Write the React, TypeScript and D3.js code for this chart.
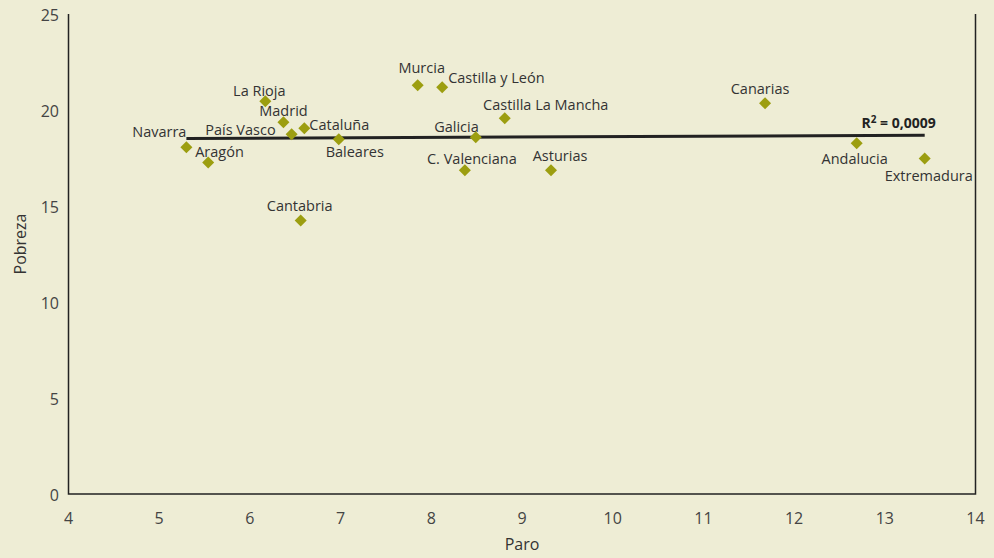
import React from "react";
import * as d3 from "d3";

// regiones, paro (%) y pobreza (%)
const regions = [
  "Navarra", "Aragón", "La Rioja", "Madrid", "País Vasco", "Cataluña", "Baleares",
  "Cantabria", "Murcia", "Castilla y León", "Castilla La Mancha", "Galicia",
  "C. Valenciana", "Asturias", "Canarias", "Andalucia", "Extremadura",
];
const paro = [5.3, 5.54, 6.17, 6.37, 6.46, 6.6, 6.98, 6.56, 7.85, 8.12, 8.81, 8.49, 8.37, 9.32, 11.68, 12.69, 13.44];
const pobreza = [18.06, 17.27, 20.46, 19.36, 18.74, 19.05, 18.48, 14.25, 21.29, 21.19, 19.57, 18.58, 16.86, 16.86, 20.35, 18.27, 17.48];

// linea de tendencia (extremos)
const trendX = [5.3, 13.44];
const trendY = [18.52, 18.68];
const r2Label = "0,0009";

const xTicks = [4, 5, 6, 7, 8, 9, 10, 11, 12, 13, 14];
const yTicks = [0, 5, 10, 15, 20, 25];

// label placement: [anchor, dx, dy]
const labelPos: Record<string, [string, number, number]> = {
  "Navarra": ["end", 0, -10],
  "Aragón": ["start", -13, -5],
  "La Rioja": ["middle", -6, -5],
  "Madrid": ["middle", 0, -6],
  "País Vasco": ["end", -16, 1],
  "Cataluña": ["start", 5, 2],
  "Baleares": ["middle", 16, 18],
  "Cantabria": ["middle", -1, -9],
  "Murcia": ["middle", 4, -12],
  "Castilla y León": ["start", 6, -4],
  "Castilla La Mancha": ["middle", 41, -8],
  "Galicia": ["end", 3, -5],
  "C. Valenciana": ["middle", 7, -6],
  "Asturias": ["middle", 9, -9],
  "Canarias": ["middle", -5, -9],
  "Andalucia": ["middle", -2, 21],
  "Extremadura": ["middle", 4, 23],
};

const W = 994;
const H = 558;
const font = "'Open Sans', 'Noto Sans', sans-serif";
const textColor = "#333";

export default function App() {
  const x = d3.scaleLinear().domain([4, 14]).range([68.5, 975.5]);
  const y = d3.scaleLinear().domain([0, 25]).range([494, 14]);
  const diamond = d3.symbol(d3.symbolDiamond2, 92)();
  const trend = d3.line<number>().x((d) => x(trendX[d])).y((d) => y(trendY[d]));

  return (
    <svg width={W} height={H} style={{ position: "absolute", left: 0, top: 0, background: "#EEEDD5" }}>
      <rect width={W} height={H} fill="#EEEDD5" />
      <g fontFamily={font} fill={textColor}>
        {/* axes */}
        <path d={`M${x(4)},${y(25)}V${y(0)}H${x(14)}V${y(25)}`} fill="none" stroke="#222" strokeWidth={1.5} />
        {yTicks.map((t) => (
          <text key={"y" + t} x={59} y={y(t) + 1} dy="0.35em" textAnchor="end" fontSize={16} fill="#444">
            {t}
          </text>
        ))}
        {xTicks.map((t) => (
          <text key={"x" + t} x={x(t)} y={518} dy="0.35em" textAnchor="middle" fontSize={16} fill="#444">
            {t}
          </text>
        ))}
        <text x={x(9)} y={544} dy="0.35em" textAnchor="middle" fontSize={16}>Paro</text>
        <text transform={`translate(20,${y(12.5) - 10}) rotate(-90)`} dy="0.35em" textAnchor="middle" fontSize={16}>
          Pobreza
        </text>

        {/* trend */}
        <path d={trend([0, 1]) || ""} fill="none" stroke="#222" strokeWidth={3} />
        <text x={x(trendX[1]) + 11} y={y(trendY[1]) - 7} textAnchor="end" fontSize={14} fontWeight="bold" fill="#222">
          R<tspan dy={-5} fontSize={10}>2</tspan>
          <tspan dy={5}> = {r2Label}</tspan>
        </text>

        {/* points */}
        {regions.map((r, i) => (
          <path key={"p" + r} d={diamond || ""} transform={`translate(${x(paro[i])},${y(pobreza[i])})`} fill="#9C9E10" />
        ))}
        {regions.map((r, i) => {
          const [anchor, dx, dy] = labelPos[r];
          return (
            <text key={"l" + r} x={x(paro[i]) + dx} y={y(pobreza[i]) + dy} textAnchor={anchor as any} fontSize={14.5}>
              {r}
            </text>
          );
        })}
      </g>
    </svg>
  );
}
